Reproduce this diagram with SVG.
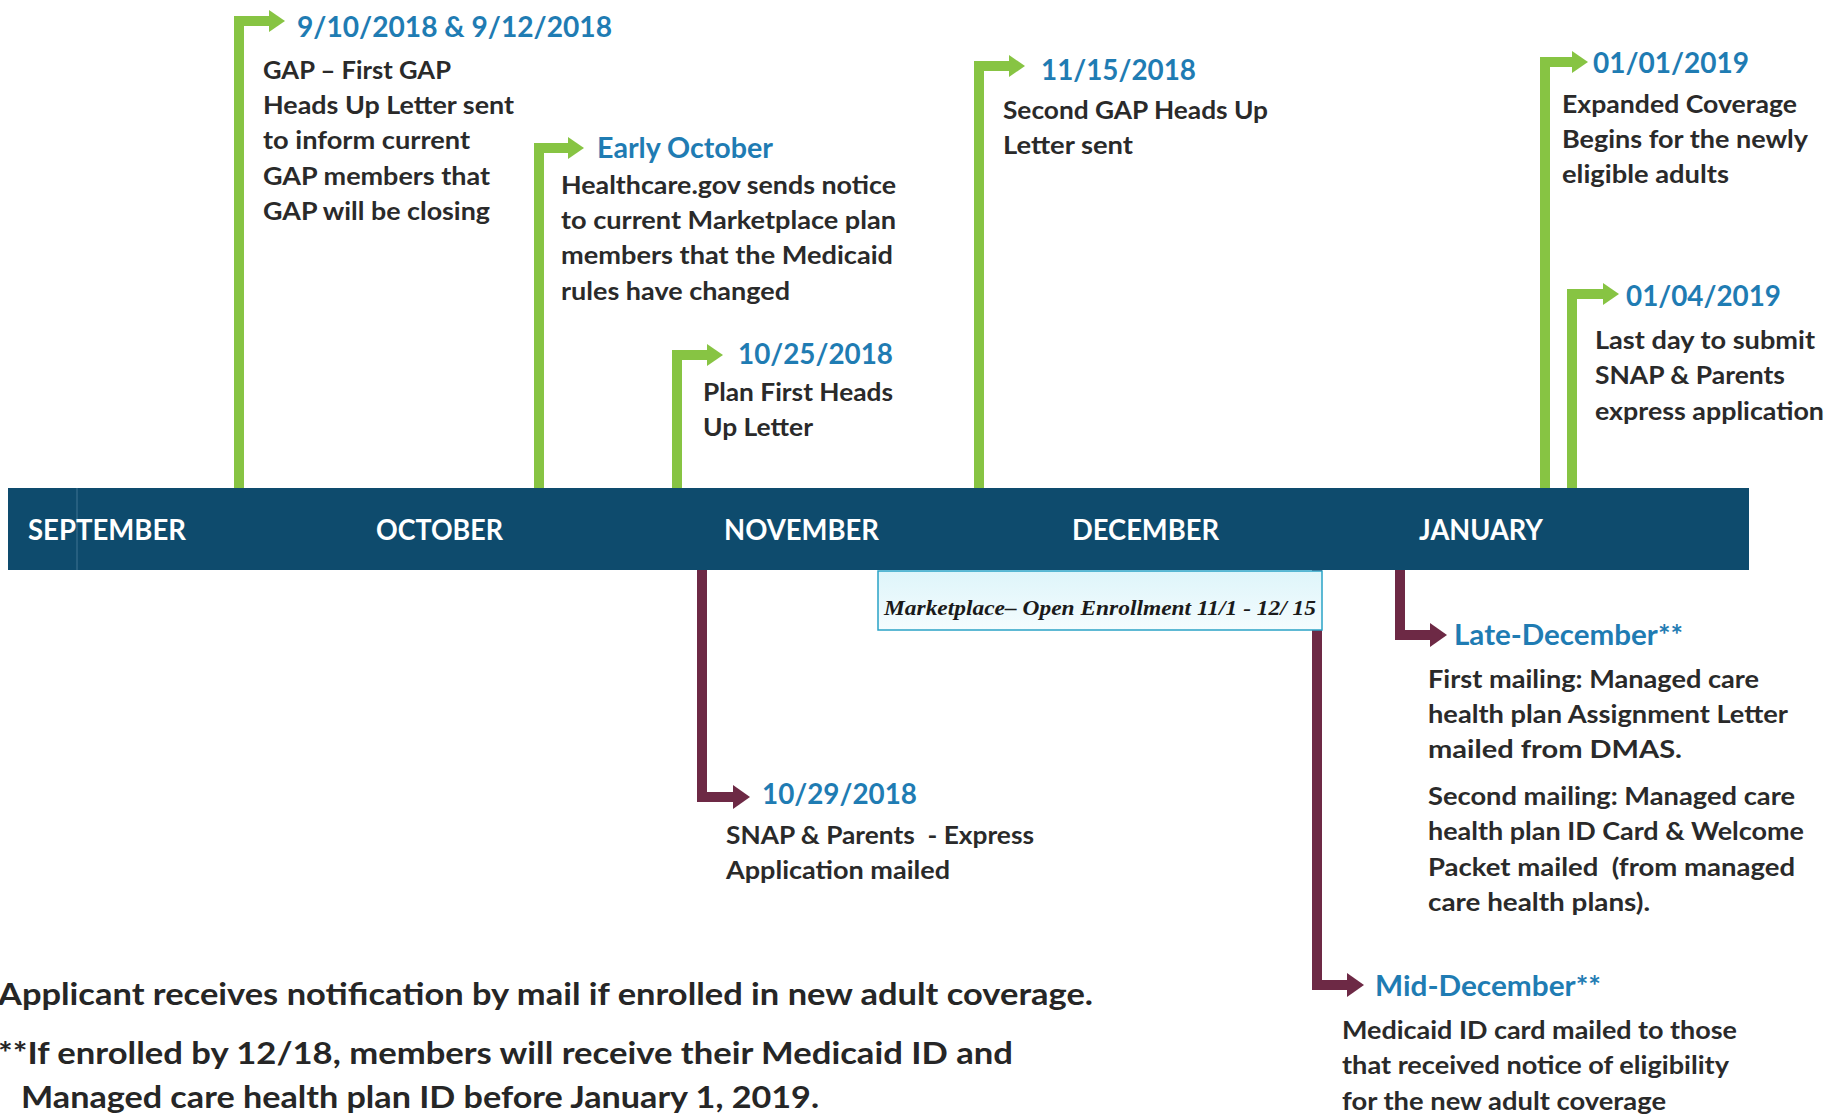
<svg xmlns="http://www.w3.org/2000/svg" width="1843" height="1114" viewBox="0 0 1843 1114">
<style>
.t{font-family:Lato,"Open Sans","Liberation Sans",sans-serif;font-weight:700;fill:#1f7cb3;font-size:29px}
.b{font-family:Lato,"Open Sans","Liberation Sans",sans-serif;font-weight:700;fill:#2a2a2a;font-size:25px}
.m{font-family:Lato,"Open Sans","Liberation Sans",sans-serif;font-weight:700;fill:#ffffff;font-size:28px}
.f{font-family:Lato,"Open Sans","Liberation Sans",sans-serif;font-weight:700;fill:#262626;font-size:31px}
.mk{font-family:"Liberation Serif",serif;font-style:italic;font-weight:700;fill:#1a1a1a;font-size:20px}
.g{fill:none;stroke:#87c443;stroke-width:10;stroke-linejoin:miter}
.r{fill:none;stroke:#6d2945;stroke-width:10;stroke-linejoin:miter}
</style>
<defs>
<marker id="ag" markerUnits="userSpaceOnUse" viewBox="0 0 16 22" refX="1" refY="11" markerWidth="16" markerHeight="22" orient="auto">
<path d="M0,0 L16,11 L0,22 z" fill="#87c443"/>
</marker>
<marker id="ar" markerUnits="userSpaceOnUse" viewBox="0 0 17 24" refX="1" refY="12" markerWidth="17" markerHeight="24" orient="auto">
<path d="M0,0 L17,12 L0,24 z" fill="#6d2945"/>
</marker>
<linearGradient id="mkg" x1="0" y1="0" x2="0" y2="1">
<stop offset="0" stop-color="#def5fa"/>
<stop offset="1" stop-color="#f4fcfe"/>
</linearGradient>
</defs>
<rect width="1843" height="1114" fill="#ffffff"/>

<g id="connectors">
<path class="g" d="M239,488 V21 H270" marker-end="url(#ag)"/>
<path class="g" d="M539,488 V148 H569" marker-end="url(#ag)"/>
<path class="g" d="M677,488 V355 H708" marker-end="url(#ag)"/>
<path class="g" d="M979,488 V66 H1010" marker-end="url(#ag)"/>
<path class="g" d="M1545,488 V62 H1573" marker-end="url(#ag)"/>
<path class="g" d="M1572,488 V294 H1604" marker-end="url(#ag)"/>
<path class="r" d="M702,570 V797 H734" marker-end="url(#ar)"/>
<path class="r" d="M1400,570 V635 H1431" marker-end="url(#ar)"/>
<path class="r" d="M1317,570 V985 H1348" marker-end="url(#ar)"/>
</g>

<g id="timeline">
<rect x="8" y="488" width="1741" height="82" fill="#0e4b6d"/>
<line x1="77" y1="488" x2="77" y2="570" stroke="#3f7593" stroke-width="1"/>
<text class="m" x="28" y="540" textLength="158" lengthAdjust="spacingAndGlyphs">SEPTEMBER</text>
<text class="m" x="376" y="540" textLength="127" lengthAdjust="spacingAndGlyphs">OCTOBER</text>
<text class="m" x="724" y="540" textLength="155" lengthAdjust="spacingAndGlyphs">NOVEMBER</text>
<text class="m" x="1072" y="540" textLength="147" lengthAdjust="spacingAndGlyphs">DECEMBER</text>
<text class="m" x="1419" y="540" textLength="124" lengthAdjust="spacingAndGlyphs">JANUARY</text>
</g>

<g id="marketplace">
<rect x="878" y="571" width="444" height="59" fill="url(#mkg)" stroke="#2aa3c6" stroke-width="1.5"/>
<text class="mk" x="884" y="615" textLength="432" lengthAdjust="spacingAndGlyphs">Marketplace– Open Enrollment 11/1 - 12/ 15</text>
</g>

<g id="ev-0910">
<text class="t" x="297" y="37" textLength="315" lengthAdjust="spacingAndGlyphs">9/10/2018 &amp; 9/12/2018</text>
<text class="b" x="263" y="79" textLength="188" lengthAdjust="spacingAndGlyphs">GAP – First GAP</text>
<text class="b" x="263" y="114" textLength="251" lengthAdjust="spacingAndGlyphs">Heads Up Letter sent</text>
<text class="b" x="263" y="149" textLength="207" lengthAdjust="spacingAndGlyphs">to inform current</text>
<text class="b" x="263" y="185" textLength="227" lengthAdjust="spacingAndGlyphs">GAP members that</text>
<text class="b" x="263" y="220" textLength="227" lengthAdjust="spacingAndGlyphs">GAP will be closing</text>
</g>

<g id="ev-earlyoct">
<text class="t" x="597" y="158" textLength="176" lengthAdjust="spacingAndGlyphs">Early October</text>
<text class="b" x="561" y="194" textLength="335" lengthAdjust="spacingAndGlyphs">Healthcare.gov sends notice</text>
<text class="b" x="561" y="229" textLength="335" lengthAdjust="spacingAndGlyphs">to current Marketplace plan</text>
<text class="b" x="561" y="264" textLength="332" lengthAdjust="spacingAndGlyphs">members that the Medicaid</text>
<text class="b" x="561" y="300" textLength="229" lengthAdjust="spacingAndGlyphs">rules have changed</text>
</g>

<g id="ev-1025">
<text class="t" x="738" y="364" textLength="155" lengthAdjust="spacingAndGlyphs">10/25/2018</text>
<text class="b" x="703" y="401" textLength="190" lengthAdjust="spacingAndGlyphs">Plan First Heads</text>
<text class="b" x="703" y="436" textLength="110" lengthAdjust="spacingAndGlyphs">Up Letter</text>
</g>

<g id="ev-1115">
<text class="t" x="1041" y="80" textLength="155" lengthAdjust="spacingAndGlyphs">11/15/2018</text>
<text class="b" x="1003" y="119" textLength="265" lengthAdjust="spacingAndGlyphs">Second GAP Heads Up</text>
<text class="b" x="1003" y="154" textLength="130" lengthAdjust="spacingAndGlyphs">Letter sent</text>
</g>

<g id="ev-0101">
<text class="t" x="1593" y="73" textLength="156" lengthAdjust="spacingAndGlyphs">01/01/2019</text>
<text class="b" x="1562" y="113" textLength="235" lengthAdjust="spacingAndGlyphs">Expanded Coverage</text>
<text class="b" x="1562" y="148" textLength="246" lengthAdjust="spacingAndGlyphs">Begins for the newly</text>
<text class="b" x="1562" y="183" textLength="167" lengthAdjust="spacingAndGlyphs">eligible adults</text>
</g>

<g id="ev-0104">
<text class="t" x="1626" y="306" textLength="155" lengthAdjust="spacingAndGlyphs">01/04/2019</text>
<text class="b" x="1595" y="349" textLength="220" lengthAdjust="spacingAndGlyphs">Last day to submit</text>
<text class="b" x="1595" y="384" textLength="190" lengthAdjust="spacingAndGlyphs">SNAP &amp; Parents</text>
<text class="b" x="1595" y="420" textLength="229" lengthAdjust="spacingAndGlyphs">express application</text>
</g>

<g id="ev-1029">
<text class="t" x="762" y="804" textLength="155" lengthAdjust="spacingAndGlyphs">10/29/2018</text>
<text class="b" x="726" y="844" textLength="308" lengthAdjust="spacingAndGlyphs" xml:space="preserve">SNAP &amp; Parents  - Express</text>
<text class="b" x="726" y="879" textLength="224" lengthAdjust="spacingAndGlyphs">Application mailed</text>
</g>

<g id="ev-latedec">
<text class="t" x="1454" y="645" textLength="229" lengthAdjust="spacingAndGlyphs">Late-December**</text>
<text class="b" x="1428" y="688" textLength="331" lengthAdjust="spacingAndGlyphs">First mailing: Managed care</text>
<text class="b" x="1428" y="723" textLength="360" lengthAdjust="spacingAndGlyphs">health plan Assignment Letter</text>
<text class="b" x="1428" y="758" textLength="254" lengthAdjust="spacingAndGlyphs">mailed from DMAS.</text>
<text class="b" x="1428" y="805" textLength="367" lengthAdjust="spacingAndGlyphs">Second mailing: Managed care</text>
<text class="b" x="1428" y="840" textLength="376" lengthAdjust="spacingAndGlyphs">health plan ID Card &amp; Welcome</text>
<text class="b" x="1428" y="876" textLength="367" lengthAdjust="spacingAndGlyphs" xml:space="preserve">Packet mailed  (from managed</text>
<text class="b" x="1428" y="911" textLength="222" lengthAdjust="spacingAndGlyphs">care health plans).</text>
</g>

<g id="ev-middec">
<text class="t" x="1375" y="996" textLength="226" lengthAdjust="spacingAndGlyphs">Mid-December**</text>
<text class="b" x="1342" y="1039" textLength="395" lengthAdjust="spacingAndGlyphs">Medicaid ID card mailed to those</text>
<text class="b" x="1342" y="1074" textLength="387" lengthAdjust="spacingAndGlyphs">that received notice of eligibility</text>
<text class="b" x="1342" y="1110" textLength="324" lengthAdjust="spacingAndGlyphs">for the new adult coverage</text>
</g>

<g id="footnotes">
<text class="f" x="-2" y="1005" textLength="1095" lengthAdjust="spacingAndGlyphs">Applicant receives notification by mail if enrolled in new adult coverage.</text>
<text class="f" x="-2" y="1064" textLength="1015" lengthAdjust="spacingAndGlyphs">**If enrolled by 12/18, members will receive their Medicaid ID and</text>
<text class="f" x="21" y="1108" textLength="798" lengthAdjust="spacingAndGlyphs">Managed care health plan ID before January 1, 2019.</text>
</g>
</svg>
